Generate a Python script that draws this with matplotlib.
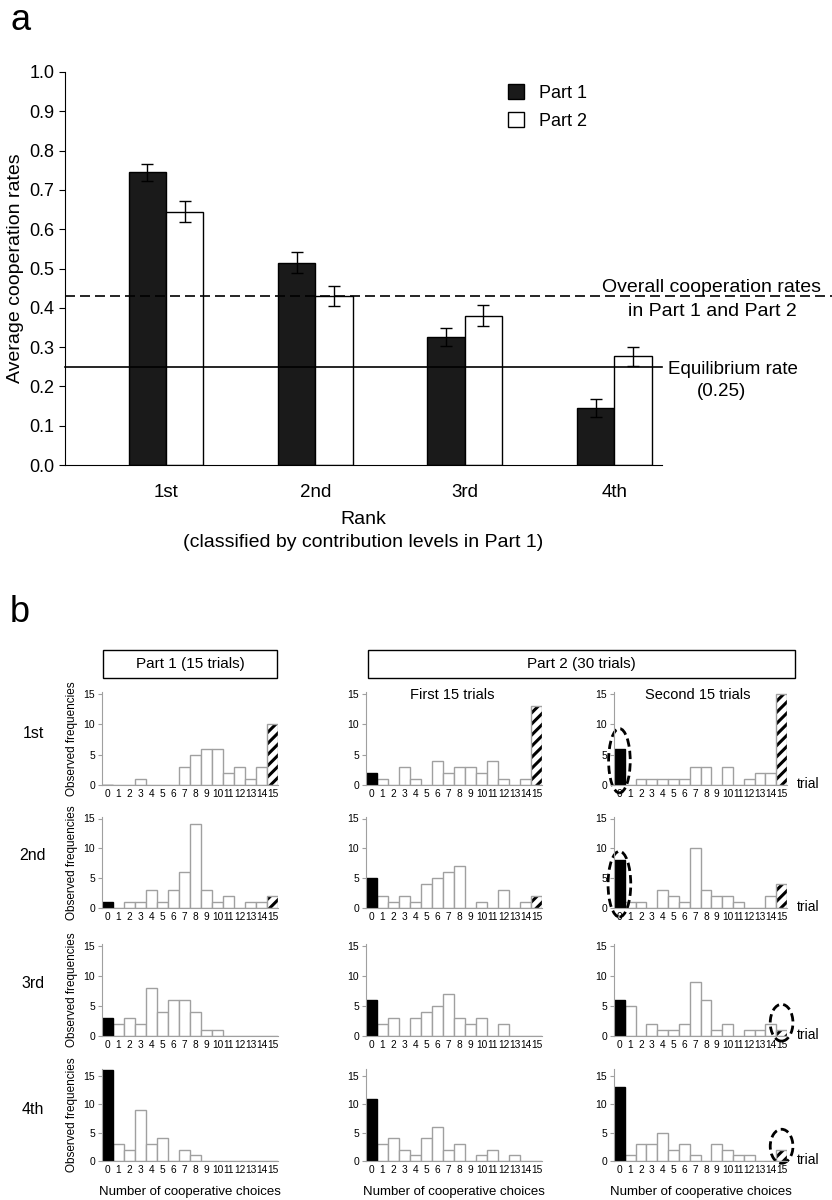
import numpy as np
import matplotlib.pyplot as plt
from matplotlib.patches import Patch, Ellipse, Rectangle

plt.rcParams['font.family'] = ['Liberation Sans', 'DejaVu Sans']
plt.rcParams['hatch.linewidth'] = 2.2

# ---- panel a data ----
ranks = ["1st", "2nd", "3rd", "4th"]
part1_rate = [0.745, 0.515, 0.325, 0.145]
part1_err = [0.022, 0.026, 0.023, 0.023]
part2_rate = [0.645, 0.430, 0.380, 0.277]
part2_err = [0.026, 0.026, 0.027, 0.024]
overall_rate = 0.43
equilibrium_rate = 0.25

# ---- panel b data (frequency of 0..15 cooperative choices) ----
choices = list(range(16))
p1_1st = [0, 0, 0, 1, 0, 0, 0, 3, 5, 6, 6, 2, 3, 1, 3, 10]
p2a_1st = [2, 1, 0, 3, 1, 0, 4, 2, 3, 3, 2, 4, 1, 0, 1, 13]
p2b_1st = [6, 0, 1, 1, 1, 1, 1, 3, 3, 0, 3, 0, 1, 2, 2, 15]
p1_2nd = [1, 0, 1, 1, 3, 1, 3, 6, 14, 3, 1, 2, 0, 1, 1, 2]
p2a_2nd = [5, 2, 1, 2, 1, 4, 5, 6, 7, 0, 1, 0, 3, 0, 1, 2]
p2b_2nd = [8, 1, 1, 0, 3, 2, 1, 10, 3, 2, 2, 1, 0, 0, 2, 4]
p1_3rd = [3, 2, 3, 2, 8, 4, 6, 6, 4, 1, 1, 0, 0, 0, 0, 0]
p2a_3rd = [6, 2, 3, 0, 3, 4, 5, 7, 3, 2, 3, 0, 2, 0, 0, 0]
p2b_3rd = [6, 5, 0, 2, 1, 1, 2, 9, 6, 1, 2, 0, 1, 1, 2, 1]
p1_4th = [16, 3, 2, 9, 3, 4, 0, 2, 1, 0, 0, 0, 0, 0, 0, 0]
p2a_4th = [11, 3, 4, 2, 1, 4, 6, 2, 3, 0, 1, 2, 0, 1, 0, 0]
p2b_4th = [13, 1, 3, 3, 5, 2, 3, 1, 0, 3, 2, 1, 1, 0, 0, 2]

grid = [[p1_1st, p2a_1st, p2b_1st],
        [p1_2nd, p2a_2nd, p2b_2nd],
        [p1_3rd, p2a_3rd, p2b_3rd],
        [p1_4th, p2a_4th, p2b_4th]]

W, H = 832, 1200


def rect(l, t, r, b):
    # pixel box -> figure fraction
    return [l / W, 1 - b / H, (r - l) / W, (b - t) / H]


fig = plt.figure(figsize=(W / 100, H / 100), dpi=100)

# ================= panel a =================
ax = fig.add_axes(rect(65, 72, 662, 465))
x = np.arange(len(ranks))
bw = 0.25
ax.bar(x - bw / 2, part1_rate, width=bw, color="#1a1a1a", edgecolor="black", lw=1,
       yerr=part1_err, capsize=4, error_kw=dict(lw=1, capthick=1))
ax.bar(x + bw / 2, part2_rate, width=bw, color="white", edgecolor="black", lw=1,
       yerr=part2_err, capsize=4, error_kw=dict(lw=1, capthick=1))
ax.set_xlim(-0.676, 3.32)
ax.set_ylim(0, 1.0)
ax.set_yticks(np.arange(0, 1.01, 0.1))
ax.set_yticklabels([f"{v:.1f}" for v in np.arange(0, 1.01, 0.1)], fontsize=13)
ax.set_xticks(x)
ax.set_xticklabels(ranks, fontsize=13.5)
ax.tick_params(axis="x", length=0, pad=14)
ax.tick_params(axis="y", direction="out", length=4)
for s in ["top", "right"]:
    ax.spines[s].set_visible(False)
ax.set_ylabel("Average cooperation rates", fontsize=14, labelpad=4)
ax.set_xlabel("Rank\n(classified by contribution levels in Part 1)", fontsize=14,
              labelpad=7, linespacing=1.45)

ax.axhline(overall_rate, 0, (832 - 65) / (662 - 65), color="black", lw=1.2,
           ls=(0, (6, 3)), clip_on=False)
ax.axhline(equilibrium_rate, 0, 1, color="black", lw=1.2, clip_on=False)
fig.text(712 / W, 1 - 288 / H, "Overall cooperation rates", fontsize=14,
         ha="center", va="center")
fig.text(712 / W, 1 - 311 / H, "in Part 1 and Part 2", fontsize=14,
         ha="center", va="center")
fig.text(668 / W, 1 - 369 / H, "Equilibrium rate", fontsize=13.5,
         ha="left", va="center")
fig.text(722 / W, 1 - 392 / H, "(0.25)", fontsize=13.5, ha="center", va="center")

legend_elements = [
    Patch(facecolor="#1a1a1a", edgecolor="black", label="Part 1"),
    Patch(facecolor="white", edgecolor="black", label="Part 2"),
]
ax.legend(handles=legend_elements, loc="upper left", bbox_to_anchor=(0.715, 1.01),
          frameon=False, fontsize=13, handlelength=0.9, handleheight=0.9,
          labelspacing=0.55)

fig.text(10 / W, 1 - 20 / H, "a", fontsize=26, va="center")
fig.text(10 / W, 1 - 612 / H, "b", fontsize=26, va="center")

# ================= panel b =================
gray = "#a0a0a0"
cols = [(102, 278), (366, 542), (614, 787)]
y0_px = [785, 908, 1036, 1161]
y15_px = [694, 818.5, 945.5, 1076]
ytops = [15.3, 15.3, 15.3, 16.2]
row_names = ["1st", "2nd", "3rd", "4th"]

axes = []
for r in range(4):
    scale = (y0_px[r] - y15_px[r]) / 15
    top = y0_px[r] - scale * ytops[r]
    row_axes = []
    for c in range(3):
        counts = grid[r][c]
        l, rr = cols[c]
        a = fig.add_axes(rect(l, top, rr, y0_px[r]))
        a.bar(choices[1:15], counts[1:15], width=1.0, facecolor="white",
              edgecolor=gray, lw=1)
        a.bar(choices[0], counts[0], width=1.0, facecolor="black",
              edgecolor="black", lw=1)
        a.bar(choices[15], counts[15], width=1.0, facecolor="white",
              edgecolor="black", lw=0, hatch="///")
        a.bar(choices[15], counts[15], width=1.0, facecolor="none",
              edgecolor=gray, lw=1)
        a.set_xlim(-0.5, 15.5)
        a.set_ylim(0, ytops[r])
        a.set_yticks([0, 5, 10, 15])
        a.set_xticks(choices)
        a.set_xticklabels([str(v) for v in choices], fontsize=7.3)
        a.tick_params(axis="x", length=0, pad=3)
        a.tick_params(axis="y", length=3, color=gray, labelsize=7.5, pad=2)
        for s in ["top", "right"]:
            a.spines[s].set_visible(False)
        for s in ["left", "bottom"]:
            a.spines[s].set_color(gray)
        if c == 0:
            a.set_ylabel("Observed frequencies", fontsize=8.5, labelpad=4)
        if r == 3:
            a.set_xlabel("Number of cooperative choices", fontsize=9.5, labelpad=8)
        row_axes.append(a)
    axes.append(row_axes)
    fig.text(33 / W, 1 - (y0_px[r] - 52) / H, row_names[r], fontsize=11.5,
             ha="center", va="center")
    fig.text(797 / W, 1 - (y0_px[r] - 1) / H, "trial", fontsize=10,
             ha="left", va="center")

# headers
for (l, t, r_, b, label) in [(103, 650, 277, 678, "Part 1 (15 trials)"),
                             (368, 650, 795, 678, "Part 2 (30 trials)")]:
    fig.add_artist(Rectangle((l / W, 1 - b / H), (r_ - l) / W, (b - t) / H,
                             transform=fig.transFigure, facecolor="white",
                             edgecolor="black", lw=1))
    fig.text((l + r_) / 2 / W, 1 - (t + b) / 2 / H, label, fontsize=11,
             ha="center", va="center")

fig.text(452 / W, 1 - 695 / H, "First 15 trials", fontsize=10.5, ha="center",
         va="center")
fig.text(698 / W, 1 - 695 / H, "Second 15 trials", fontsize=10.5, ha="center",
         va="center")

# dashed ellipses highlighting bars in the second half of Part 2
ell_style = dict(facecolor="none", edgecolor="black", lw=2, ls=(0, (3, 1.5)),
                 clip_on=False)
axes[0][2].add_patch(Ellipse((0, 4.0), 2.0, 10.6, **ell_style))
axes[1][2].add_patch(Ellipse((0, 4.0), 2.1, 11.0, **ell_style))
axes[2][2].add_patch(Ellipse((15, 2.2), 2.1, 6.1, **ell_style))
axes[3][2].add_patch(Ellipse((15, 2.6), 2.1, 6.0, **ell_style))

fig.savefig("out.png", dpi=100)
